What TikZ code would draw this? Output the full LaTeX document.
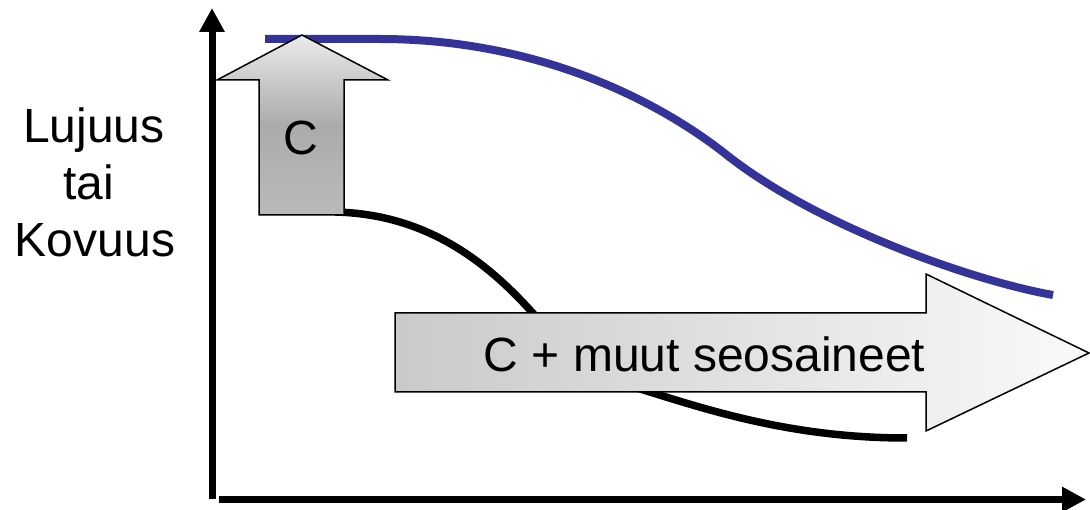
\documentclass[tikz,border=0pt]{standalone}
\usepackage{fontspec}
\setmainfont{Liberation Sans}
\usetikzlibrary{arrows.meta}
\definecolor{curveblue}{HTML}{333399}
\begin{document}
\begin{tikzpicture}[x=1pt,y=-1pt,
  axis/.style={line width=7pt,-{Triangle[width=24pt,length=24pt]}},
  lbl/.style={font=\fontsize{48}{57}\selectfont, inner sep=0pt, anchor=base},
  fatarrow/.style={draw=black, line width=1.5pt, line join=miter},
  curveline/.style={line width=7.5pt, line cap=butt}]
\useasboundingbox (0,0) rectangle (1090,510);
% axes
\coordinate (yb) at (212,499);
\coordinate (yt) at (212,8);
\coordinate (xl) at (219,499.5);
\coordinate (xr) at (1086,499.5);
\draw[axis] (yb) -- (yt);
\draw[axis] (xl) -- (xr);
% curves
\coordinate (b0) at (265,39);
\coordinate (b1) at (380,39);
\coordinate (b2) at (723,152);
\coordinate (b3) at (1053,295);
\draw[curveline, curveblue, line width=8pt]
  (b0) -- (b1) .. controls (520,39) and (640,88) .. (b2)
  .. controls (813,225) and (973,281) .. (b3);
\coordinate (k0) at (335,212);
\coordinate (k1) at (530,310);
\coordinate (k2) at (650,392);
\coordinate (k3) at (907,438);
\draw[curveline, black]
  (k0) .. controls (420,214) and (480,255) .. (k1)
  .. controls (580,365) and (610,380) .. (k2)
  .. controls (720,414) and (800,438) .. (k3);
% up arrow C
\draw[fatarrow, top color=black!8, bottom color=black!27, middle color=black!33]
  (302,35) -- (388,80) -- (344,80) -- (344,215) -- (259,215) -- (259,80) -- (217,80) -- cycle;
% right arrow
\draw[fatarrow, left color=black!21, right color=black!2]
  (395,313) -- (926,313) -- (926,274) -- (1089,353) -- (926,431) -- (926,392) -- (395,392) -- cycle;
% texts
\node[lbl] (l1) at (94,143) {Lujuus};
\node[lbl] (l2) at (89,200) {tai};
\node[lbl] (l3) at (95,257) {Kovuus};
\node[lbl] (c) at (301,155) {C};
\node[lbl] (cm) at (704.5,372) {C + muut seosaineet};
\end{tikzpicture}
\end{document}
